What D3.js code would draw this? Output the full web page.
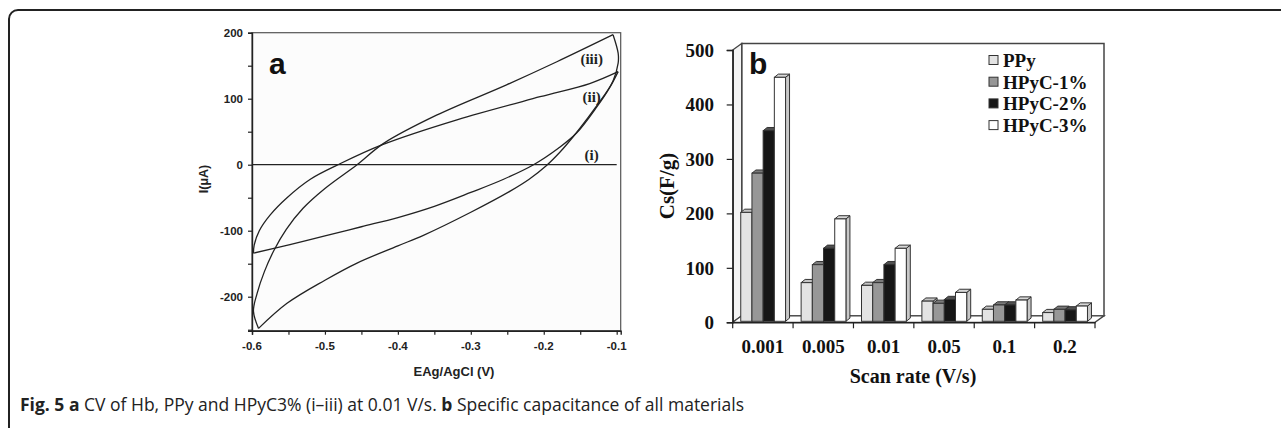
<!DOCTYPE html>
<html>
<head>
<meta charset="utf-8">
<script src="https://cdn.jsdelivr.net/npm/d3@7"></script>
<style>
  html, body { margin: 0; padding: 0; background: #fff; }
  svg { display: block; }
</style>
</head>
<body>
<svg id="fig" width="1281" height="428"></svg>
<script>
// ---- Panel a: cyclic voltammograms, [E (V), I (µA)] ----
const hbCurve = [[-0.6, 0], [-0.1, 0]];
const ppyLower = [
  [-0.598, -134], [-0.548, -121], [-0.5, -108], [-0.45, -94], [-0.4, -80],
  [-0.35, -63], [-0.3, -42], [-0.255, -22], [-0.214, 0], [-0.18, 25],
  [-0.155, 48], [-0.127, 88], [-0.109, 118], [-0.098, 141]
];
const ppyUpper = [
  [-0.098, 141], [-0.137, 123], [-0.205, 103], [-0.319, 68], [-0.422, 30],
  [-0.482, 0], [-0.52, -22], [-0.552, -50], [-0.575, -76], [-0.59, -100],
  [-0.597, -122], [-0.598, -134]
];
const hpycLower = [
  [-0.591, -248], [-0.552, -210], [-0.5, -175], [-0.456, -149], [-0.4, -123],
  [-0.365, -107], [-0.3, -72], [-0.246, -40], [-0.22, -22], [-0.197, -2],
  [-0.177, 20], [-0.16, 42], [-0.143, 66], [-0.127, 90], [-0.114, 110],
  [-0.105, 127], [-0.098, 154], [-0.098, 169], [-0.105, 197]
];
const hpycUpper = [
  [-0.105, 197], [-0.182, 156], [-0.251, 121], [-0.347, 75], [-0.42, 32],
  [-0.456, 0], [-0.5, -36], [-0.53, -66], [-0.553, -98], [-0.57, -130],
  [-0.583, -162], [-0.593, -195], [-0.598, -222], [-0.591, -248]
];
const curveLabels = ["(iii)", "(ii)", "(i)"];
const curveLabelAt = [[-0.1, 160], [-0.1, 103], [-0.1, 15]];
const aXTicks = [-0.6, -0.5, -0.4, -0.3, -0.2, -0.1];
const aYTicks = [200, 100, 0, -100, -200];

// ---- Panel b: specific capacitance (F/g) ----
const scanRates = ["0.001", "0.005", "0.01", "0.05", "0.1", "0.2"];
const seriesNames = ["PPy", "HPyC-1%", "HPyC-2%", "HPyC-3%"];
const ppyCs = [200, 71, 66, 37, 22, 16];
const hpyc1Cs = [272, 104, 71, 33, 30, 22];
const hpyc2Cs = [350, 134, 104, 40, 30, 21];
const hpyc3Cs = [448, 188, 134, 53, 39, 28];
const bYTicks = [0, 100, 200, 300, 400, 500];

const seriesFill = ["#e3e3e3", "#979797", "#161616", "#ffffff"];
const seriesTop = ["#c4c4c4", "#7a7a7a", "#505050", "#d8d8d8"];
const seriesSide = ["#b4b4b4", "#6a6a6a", "#3a3a3a", "#c8c8c8"];

const svg = d3.select("#fig");
const ink = "#222";

// outer figure frame
svg.append("rect")
  .attr("x", 9).attr("y", 10)
  .attr("width", 1320).attr("height", 460)
  .attr("rx", 9)
  .attr("fill", "none").attr("stroke", ink).attr("stroke-width", 2);

// ================= Panel a =================
const xA = d3.scaleLinear().domain([-0.6, -0.0945]).range([252, 620.7]);
const yA = d3.scaleLinear().domain([-251.5, 200]).range([330.7, 32.7]);

const ga = svg.append("g").attr("font-family", "'Liberation Sans', Arial, sans-serif");

// plot frame (top and right)
ga.append("rect")
  .attr("x", xA.range()[0]).attr("y", yA.range()[1])
  .attr("width", xA.range()[1] - xA.range()[0])
  .attr("height", yA.range()[0] - yA.range()[1])
  .attr("fill", "#fcfcfc").attr("stroke", "#555").attr("stroke-width", 1.2);

// axes
const axA = ga.append("g")
  .attr("transform", `translate(0,${yA.range()[0]})`)
  .call(d3.axisBottom(xA).tickValues(d3.range(-0.6, -0.099, 0.05)).tickSize(4).tickFormat(""));
const ayA = ga.append("g")
  .attr("transform", `translate(${xA.range()[0]},0)`)
  .call(d3.axisLeft(yA).tickValues(d3.range(-250, 201, 50)).tickSize(4).tickFormat(""));
[axA, ayA].forEach(g => {
  g.select(".domain").attr("stroke", ink).attr("stroke-width", 1.4);
  g.selectAll(".tick line").attr("stroke", ink).attr("stroke-width", 1.2);
});

ga.append("g").selectAll("text").data(aXTicks).join("text")
  .attr("x", d => xA(d)).attr("y", 350)
  .attr("text-anchor", "middle")
  .attr("font-size", 11.5).attr("font-weight", "bold").attr("fill", ink)
  .text(d => d.toFixed(1));
ga.append("g").selectAll("text").data(aYTicks).join("text")
  .attr("x", 243).attr("y", d => yA(d)).attr("dy", "0.35em")
  .attr("text-anchor", "end")
  .attr("font-size", 11.5).attr("font-weight", "bold").attr("fill", ink)
  .text(d => d);

ga.append("text")
  .attr("x", 454).attr("y", 376).attr("text-anchor", "middle")
  .attr("font-size", 13).attr("font-weight", "bold").attr("fill", ink)
  .text("EAg/AgCl (V)");
ga.append("text")
  .attr("transform", "translate(208,179) rotate(-90)")
  .attr("text-anchor", "middle")
  .attr("font-size", 12.5).attr("font-weight", "bold").attr("fill", ink)
  .text("I(μA)");

ga.append("text")
  .attr("x", 269).attr("y", 74)
  .attr("font-size", 30).attr("font-weight", "bold").attr("fill", "#111")
  .text("a");

// curves
const cvLine = d3.line()
  .x(d => xA(d[0])).y(d => yA(d[1]))
  .curve(d3.curveCatmullRom.alpha(0.5));
ga.append("g").selectAll("path")
  .data([hbCurve, ppyLower, ppyUpper, hpycLower, hpycUpper])
  .join("path")
  .attr("d", cvLine)
  .attr("fill", "none").attr("stroke", ink).attr("stroke-width", 1.3);

ga.append("g").selectAll("text").data(curveLabels).join("text")
  .attr("x", (d, i) => xA(curveLabelAt[i][0]) - 25)
  .attr("y", (d, i) => yA(curveLabelAt[i][1]))
  .attr("dy", "0.35em")
  .attr("text-anchor", "middle")
  .attr("font-family", "'Liberation Serif', 'Times New Roman', serif")
  .attr("font-size", 15).attr("font-weight", "bold").attr("fill", ink)
  .text(d => d);

// ================= Panel b =================
const depth = { dx: 9, dy: -6.5 };
const xB = d3.scaleBand().domain(scanRates).range([732.7, 1095]);
const yB = d3.scaleLinear().domain([0, 500]).range([322.3, 50]);
const sub = d3.scaleBand().domain(seriesNames).range([0, 44.8]);
const seriesValues = [ppyCs, hpyc1Cs, hpyc2Cs, hpyc3Cs];

const gb = svg.append("g").attr("font-family", "'Liberation Serif', 'Times New Roman', serif");
const wall = "#444";
const x0 = xB.range()[0], x1 = xB.range()[1];
const yTop = yB(500), yBot = yB(0);

// back wall
gb.append("rect")
  .attr("x", x0 + depth.dx).attr("y", yTop + depth.dy)
  .attr("width", x1 - x0).attr("height", yBot - yTop)
  .attr("fill", "#fff").attr("stroke", wall).attr("stroke-width", 1.5);
// left wall
gb.append("path")
  .attr("d", `M${x0},${yTop}L${x0 + depth.dx},${yTop + depth.dy}L${x0 + depth.dx},${yBot + depth.dy}L${x0},${yBot}Z`)
  .attr("fill", "#f4f4f4").attr("stroke", wall).attr("stroke-width", 1.3);
// floor
gb.append("path")
  .attr("d", `M${x0},${yBot}L${x0 + depth.dx},${yBot + depth.dy}L${x1 + depth.dx},${yBot + depth.dy}L${x1},${yBot}Z`)
  .attr("fill", "#fff").attr("stroke", wall).attr("stroke-width", 1.3);

// bars
const barDepth = { dx: 4, dy: -3.2 };
const barShift = { dx: 4.5 + (xB.bandwidth() - 4.5 - 44.8 - barDepth.dx) / 2, dy: -1 };
const barData = [];
scanRates.forEach((r, i) => {
  seriesNames.forEach((s, j) => barData.push({ rate: r, series: s, j, value: seriesValues[j][i] }));
});
const bars = gb.append("g").selectAll("g").data(barData).join("g")
  .attr("transform", d => `translate(${xB(d.rate) + barShift.dx + sub(d.series)},${barShift.dy})`);
bars.append("path")
  .attr("d", d => {
    const w = sub.bandwidth(), t = yB(d.value), b = yB(0);
    return `M${w},${t}L${w + barDepth.dx},${t + barDepth.dy}L${w + barDepth.dx},${b + barDepth.dy}L${w},${b}Z`;
  })
  .attr("fill", d => seriesSide[d.j]).attr("stroke", "#333").attr("stroke-width", 1);
bars.append("path")
  .attr("d", d => {
    const w = sub.bandwidth(), t = yB(d.value);
    return `M0,${t}L${barDepth.dx},${t + barDepth.dy}L${w + barDepth.dx},${t + barDepth.dy}L${w},${t}Z`;
  })
  .attr("fill", d => seriesTop[d.j]).attr("stroke", "#333").attr("stroke-width", 1);
bars.append("rect")
  .attr("x", 0).attr("y", d => yB(d.value))
  .attr("width", sub.bandwidth()).attr("height", d => yB(0) - yB(d.value))
  .attr("fill", d => seriesFill[d.j]).attr("stroke", "#333").attr("stroke-width", 1);

// front axes
const ayB = gb.append("g").attr("transform", `translate(${x0},0)`)
  .call(d3.axisLeft(yB).tickValues(bYTicks).tickSize(6).tickFormat(""));
const axB = gb.append("g").attr("transform", `translate(0,${yBot})`)
  .call(d3.axisBottom(xB).tickSize(0).tickFormat(""));
axB.append("g").selectAll("line")
  .data(scanRates.map(r => xB(r)).concat([x1]))
  .join("line")
  .attr("x1", d => d).attr("x2", d => d).attr("y1", 0).attr("y2", 6)
  .attr("stroke", ink).attr("stroke-width", 1.2);
[ayB, axB].forEach(g => {
  g.select(".domain").attr("stroke", ink).attr("stroke-width", 1.4);
  g.selectAll(".tick line").attr("stroke", ink).attr("stroke-width", 1.2);
});

gb.append("g").selectAll("text").data(bYTicks).join("text")
  .attr("x", 714).attr("y", d => yB(d)).attr("dy", "0.36em")
  .attr("text-anchor", "end")
  .attr("font-size", 19).attr("font-weight", "bold").attr("fill", "#111")
  .text(d => d);
gb.append("g").selectAll("text").data(scanRates).join("text")
  .attr("x", d => xB(d) + xB.bandwidth() / 2).attr("y", 353)
  .attr("text-anchor", "middle")
  .attr("font-size", 19).attr("font-weight", "bold").attr("fill", "#111")
  .text(d => d);

gb.append("text")
  .attr("x", 913).attr("y", 383).attr("text-anchor", "middle")
  .attr("font-size", 20).attr("font-weight", "bold").attr("fill", "#111")
  .text("Scan rate (V/s)");
gb.append("text")
  .attr("transform", "translate(674,186) rotate(-90)")
  .attr("text-anchor", "middle")
  .attr("font-size", 21).attr("font-weight", "bold").attr("fill", "#111")
  .text("Cs(F/g)");

gb.append("text")
  .attr("x", 749).attr("y", 73.5)
  .attr("font-family", "'Liberation Sans', Arial, sans-serif")
  .attr("font-size", 30).attr("font-weight", "bold").attr("fill", "#111")
  .text("b");

// legend
const leg = gb.append("g").selectAll("g").data(seriesNames).join("g")
  .attr("transform", (d, i) => `translate(989,${60 + i * 21.7})`);
leg.append("rect")
  .attr("x", 0).attr("y", -4.5).attr("width", 9).attr("height", 9)
  .attr("fill", (d, i) => seriesFill[i]).attr("stroke", "#333").attr("stroke-width", 1);
leg.append("text")
  .attr("x", 14).attr("dy", "0.36em")
  .attr("font-size", 19).attr("font-weight", "bold").attr("fill", "#111")
  .text(d => d);

// ================= Caption =================
const cap = svg.append("text")
  .attr("x", 20).attr("y", 411)
  .attr("font-family", "'Open Sans', 'Noto Sans', sans-serif")
  .attr("font-size", 17.5).attr("fill", "#222");
cap.append("tspan").attr("font-weight", "bold").text("Fig. 5 a");
cap.append("tspan").text(" CV of Hb, PPy and HPyC3% (i–iii) at 0.01 V/s. ");
cap.append("tspan").attr("font-weight", "bold").text("b");
cap.append("tspan").text(" Specific capacitance of all materials");
</script>
</body>
</html>
